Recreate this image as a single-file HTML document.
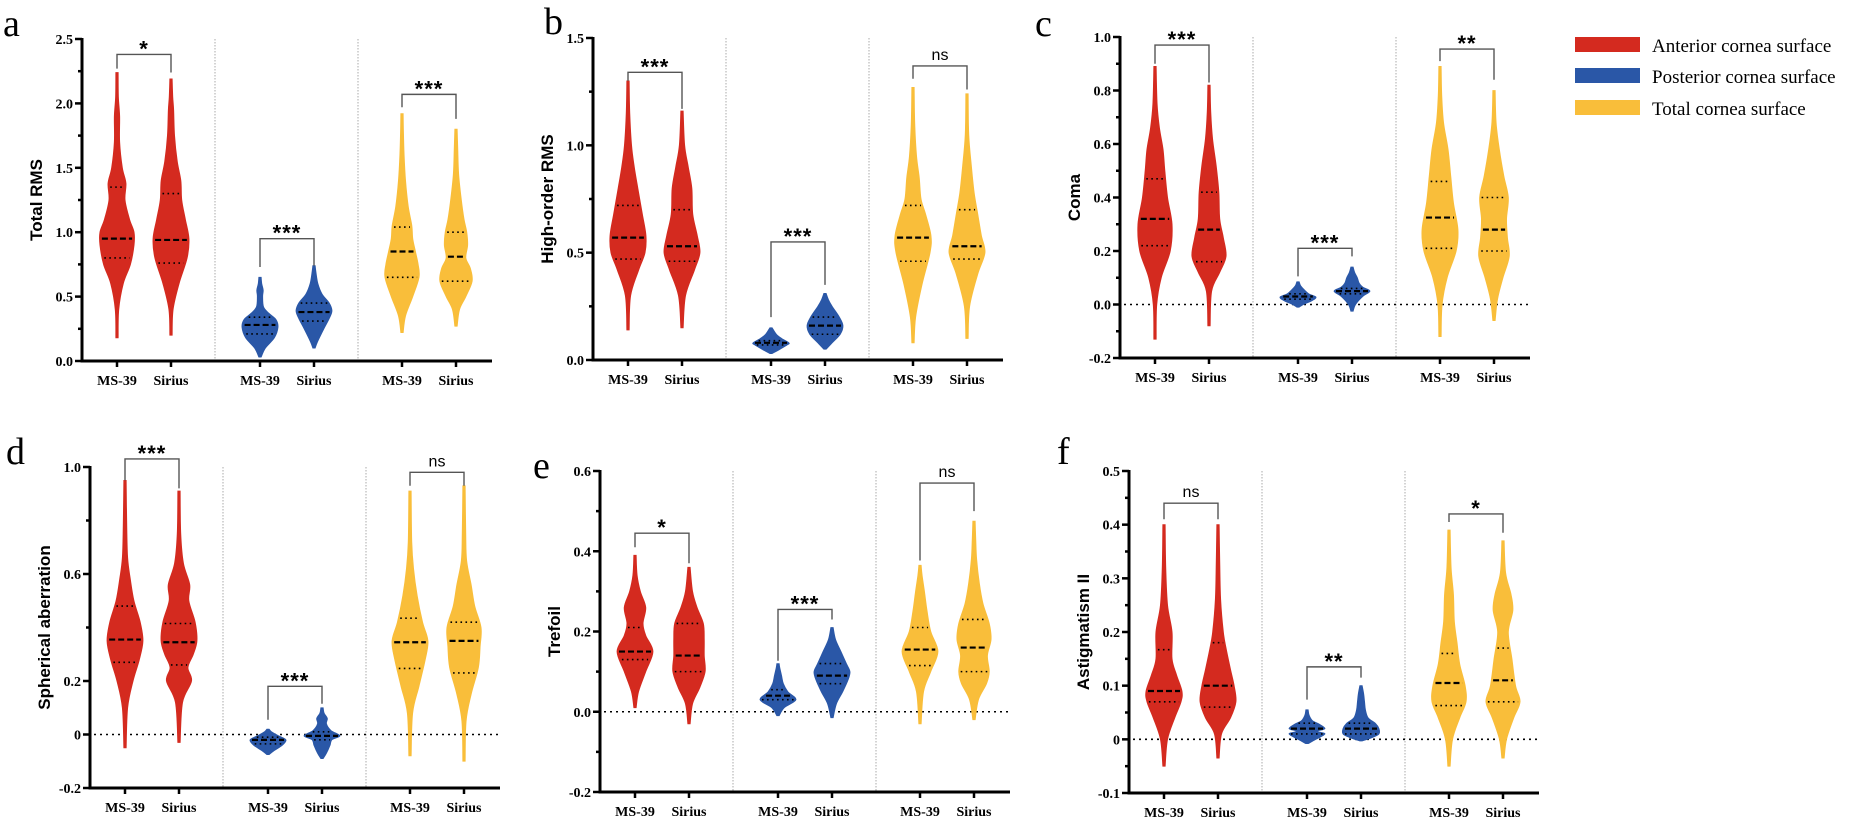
<!DOCTYPE html>
<html><head><meta charset="utf-8"><style>
html,body{margin:0;padding:0;background:#fff;}
svg{display:block;}
.tk{font-family:"Liberation Serif",serif;font-weight:bold;font-size:14px;fill:#000;}
.yt{font-family:"Liberation Sans",sans-serif;font-weight:bold;font-size:17px;fill:#000;}
.pl{font-family:"Liberation Serif",serif;font-size:38px;fill:#000;}
.sig{font-family:"Liberation Sans",sans-serif;font-weight:bold;font-size:17px;fill:#000;}
.lg{font-family:"Liberation Serif",serif;font-size:19px;fill:#000;}
</style></head><body>
<svg id="fig" width="1865" height="818" viewBox="0 0 1865 818" xmlns="http://www.w3.org/2000/svg">
<g>
<rect x="1575" y="37" width="65" height="15" fill="#D42A1F"/>
<text class="lg" x="1652" y="52">Anterior cornea surface</text>
<rect x="1575" y="68" width="65" height="15" fill="#2A57A7"/>
<text class="lg" x="1652" y="83">Posterior cornea surface</text>
<rect x="1575" y="100" width="65" height="15" fill="#F9BE3A"/>
<text class="lg" x="1652" y="115">Total cornea surface</text>
</g>
</svg>
<script>
// ---------- data ----------
const categories = ["MS-39","Sirius","MS-39","Sirius","MS-39","Sirius"];
const seriesColors = ["#D42A1F","#D42A1F","#2A57A7","#2A57A7","#F9BE3A","#F9BE3A"];

// stats per violin: [min, q1, median, q3, max]
const aStats = [[0.18,0.80,0.95,1.35,2.24],[0.20,0.76,0.94,1.30,2.19],[0.03,0.21,0.28,0.34,0.65],[0.10,0.31,0.38,0.45,0.74],[0.22,0.65,0.85,1.04,1.92],[0.27,0.62,0.81,1.00,1.80]];
const bStats = [[0.14,0.47,0.57,0.72,1.30],[0.15,0.46,0.53,0.70,1.16],[0.03,0.07,0.08,0.09,0.15],[0.05,0.12,0.16,0.20,0.31],[0.08,0.46,0.57,0.72,1.27],[0.10,0.47,0.53,0.70,1.24]];
const cStats = [[-0.13,0.22,0.32,0.47,0.89],[-0.08,0.16,0.28,0.42,0.82],[-0.01,0.02,0.03,0.04,0.085],[-0.025,0.04,0.05,0.06,0.14],[-0.12,0.21,0.325,0.46,0.89],[-0.06,0.20,0.28,0.40,0.80]];
const dStats = [[-0.05,0.27,0.355,0.48,0.95],[-0.03,0.26,0.345,0.415,0.91],[-0.075,-0.035,-0.02,-0.01,0.02],[-0.09,-0.02,-0.005,0.01,0.10],[-0.08,0.247,0.345,0.435,0.91],[-0.10,0.23,0.35,0.42,0.93]];
const eStats = [[0.01,0.13,0.15,0.21,0.39],[-0.03,0.10,0.14,0.22,0.36],[-0.01,0.03,0.04,0.055,0.12],[-0.015,0.07,0.09,0.12,0.21],[-0.03,0.115,0.155,0.21,0.365],[-0.02,0.10,0.16,0.23,0.475]];
const fStats = [[-0.05,0.07,0.09,0.167,0.40],[-0.035,0.06,0.10,0.18,0.40],[-0.008,0.01,0.02,0.03,0.055],[-0.003,0.01,0.02,0.03,0.10],[-0.05,0.063,0.105,0.16,0.39],[-0.035,0.07,0.11,0.17,0.37]];

// density knots per violin: [value, relative width]
const aShapes = [
 [[0.4,0.1],[0.6,0.35],[0.75,0.75],[0.9,0.95],[1.0,0.95],[1.1,0.7],[1.25,0.45],[1.38,0.5],[1.5,0.3],[1.7,0.15],[1.9,0.15],[2.05,0.08]],
 [[0.4,0.12],[0.6,0.45],[0.8,0.9],[0.95,1.0],[1.1,0.8],[1.25,0.6],[1.4,0.55],[1.55,0.35],[1.75,0.2],[1.95,0.15],[2.05,0.1]],
 [[0.1,0.3],[0.18,0.8],[0.26,1.0],[0.32,0.9],[0.37,0.5],[0.42,0.2],[0.5,0.15],[0.55,0.18],[0.6,0.1]],
 [[0.15,0.2],[0.25,0.55],[0.33,0.85],[0.39,1.0],[0.45,0.85],[0.52,0.45],[0.6,0.22],[0.68,0.12]],
 [[0.35,0.2],[0.5,0.6],[0.65,0.95],[0.75,0.9],[0.85,0.75],[0.95,0.6],[1.05,0.55],[1.2,0.35],[1.4,0.2],[1.6,0.12],[1.8,0.08]],
 [[0.4,0.2],[0.5,0.55],[0.62,0.9],[0.72,0.8],[0.8,0.55],[0.9,0.65],[1.0,0.6],[1.1,0.45],[1.25,0.3],[1.45,0.15],[1.65,0.1]]];
const bShapes = [
 [[0.3,0.15],[0.42,0.6],[0.5,0.95],[0.58,1.0],[0.68,0.8],[0.8,0.55],[0.9,0.35],[1.0,0.2],[1.15,0.1]],
 [[0.3,0.2],[0.42,0.7],[0.5,1.0],[0.58,0.85],[0.68,0.6],[0.8,0.55],[0.9,0.35],[1.0,0.15]],
 [[0.05,0.5],[0.07,0.9],[0.08,1.0],[0.1,0.6],[0.12,0.3]],
 [[0.08,0.4],[0.12,0.85],[0.16,1.0],[0.2,0.8],[0.25,0.4],[0.28,0.2]],
 [[0.2,0.15],[0.35,0.5],[0.5,0.95],[0.58,1.0],[0.68,0.7],[0.75,0.45],[0.85,0.35],[0.95,0.2],[1.1,0.1]],
 [[0.25,0.15],[0.4,0.6],[0.5,1.0],[0.58,0.8],[0.68,0.6],[0.78,0.4],[0.9,0.25],[1.05,0.1]]];
const cShapes = [
 [[0.0,0.1],[0.1,0.35],[0.2,0.85],[0.3,0.95],[0.4,0.7],[0.5,0.55],[0.58,0.45],[0.66,0.25],[0.75,0.12]],
 [[0.05,0.15],[0.12,0.6],[0.18,0.95],[0.25,0.8],[0.32,0.6],[0.42,0.55],[0.52,0.4],[0.62,0.2],[0.72,0.1]],
 [[0.0,0.3],[0.015,0.8],[0.028,1.0],[0.04,0.6],[0.055,0.35],[0.07,0.15]],
 [[0.0,0.2],[0.03,0.6],[0.05,1.0],[0.065,0.6],[0.08,0.4],[0.1,0.3],[0.12,0.15]],
 [[0.0,0.12],[0.1,0.4],[0.2,0.9],[0.28,1.0],[0.38,0.75],[0.48,0.6],[0.58,0.45],[0.68,0.2],[0.78,0.1]],
 [[0.02,0.2],[0.1,0.5],[0.18,0.85],[0.25,0.75],[0.32,0.7],[0.4,0.8],[0.48,0.55],[0.58,0.3],[0.68,0.12]]];
const dShapes = [
 [[0.1,0.15],[0.2,0.45],[0.28,0.8],[0.35,1.0],[0.42,0.85],[0.5,0.5],[0.58,0.3],[0.66,0.15],[0.78,0.1]],
 [[0.12,0.2],[0.2,0.7],[0.25,0.5],[0.3,0.8],[0.35,1.0],[0.42,0.9],[0.5,0.55],[0.56,0.6],[0.64,0.25],[0.75,0.1]],
 [[-0.06,0.35],[-0.04,0.8],[-0.02,1.0],[-0.005,0.6],[0.01,0.2]],
 [[-0.07,0.25],[-0.04,0.45],[-0.02,0.55],[-0.005,1.0],[0.015,0.5],[0.04,0.25],[0.06,0.3],[0.08,0.12]],
 [[0.08,0.15],[0.18,0.5],[0.28,0.85],[0.35,1.0],[0.42,0.7],[0.52,0.4],[0.62,0.2],[0.72,0.1]],
 [[0.05,0.12],[0.15,0.4],[0.25,0.8],[0.33,0.9],[0.4,0.95],[0.48,0.6],[0.56,0.4],[0.65,0.15],[0.75,0.1]]];
const eShapes = [
 [[0.05,0.2],[0.1,0.6],[0.15,1.0],[0.19,0.6],[0.22,0.45],[0.26,0.6],[0.3,0.3],[0.34,0.12]],
 [[0.02,0.2],[0.06,0.6],[0.1,0.9],[0.14,0.85],[0.18,0.85],[0.22,0.8],[0.26,0.45],[0.3,0.2]],
 [[0.01,0.35],[0.03,1.0],[0.05,0.55],[0.07,0.3],[0.09,0.2],[0.11,0.1]],
 [[0.02,0.25],[0.05,0.6],[0.08,0.9],[0.1,1.0],[0.12,0.8],[0.15,0.5],[0.18,0.2]],
 [[0.05,0.2],[0.1,0.6],[0.15,1.0],[0.2,0.6],[0.25,0.4],[0.3,0.25],[0.34,0.12]],
 [[0.03,0.25],[0.07,0.7],[0.1,0.85],[0.14,0.75],[0.18,0.95],[0.22,0.85],[0.27,0.5],[0.32,0.3],[0.38,0.15],[0.43,0.1]]];
const fShapes = [
 [[0.0,0.2],[0.04,0.6],[0.07,0.95],[0.09,1.0],[0.12,0.7],[0.15,0.45],[0.2,0.45],[0.25,0.2],[0.32,0.1]],
 [[0.01,0.2],[0.04,0.7],[0.07,1.0],[0.1,0.9],[0.13,0.7],[0.17,0.45],[0.2,0.3],[0.26,0.15],[0.33,0.1]],
 [[0.0,0.5],[0.01,1.0],[0.015,0.6],[0.02,1.0],[0.028,0.7],[0.035,0.3],[0.045,0.12]],
 [[0.003,0.6],[0.01,1.0],[0.02,1.0],[0.03,0.8],[0.04,0.4],[0.055,0.25],[0.07,0.2],[0.085,0.15]],
 [[0.0,0.2],[0.04,0.6],[0.07,0.95],[0.1,0.9],[0.14,0.6],[0.18,0.45],[0.22,0.3],[0.27,0.25],[0.32,0.12]],
 [[0.0,0.2],[0.04,0.6],[0.07,0.95],[0.1,0.7],[0.15,0.5],[0.2,0.3],[0.24,0.55],[0.27,0.45],[0.31,0.15]]];

// significance brackets: [bar value, left leg end, right leg end]
const aSig = [[2.38,2.27,2.24],[0.95,0.73,0.74],[2.07,1.97,1.88]];
const bSig = [[1.34,1.30,1.17],[0.55,0.20,0.35],[1.37,1.31,1.26]];
const cSig = [[0.97,0.90,0.83],[0.21,0.105,0.18],[0.955,0.91,0.84]];
const dSig = [[1.03,0.95,0.92],[0.18,0.055,0.115],[0.98,0.93,0.93]];
const eSig = [[0.445,0.41,0.37],[0.255,0.127,0.23],[0.57,0.377,0.50]];
const fSig = [[0.44,0.41,0.41],[0.135,0.074,0.115],[0.42,0.405,0.385]];
const aSigLabels = ["*","***","***"];
const bSigLabels = ["***","***","ns"];
const cSigLabels = ["***","***","**"];
const dSigLabels = ["***","***","ns"];
const eSigLabels = ["*","***","ns"];
const fSigLabels = ["ns","**","*"];

// ticks
const aTicks = [0,0.5,1.0,1.5,2.0,2.5];
const aTickLabels = ["0.0","0.5","1.0","1.5","2.0","2.5"];
const aMinor = [0.25,0.75,1.25,1.75,2.25];
const bTicks = [0,0.5,1.0,1.5];
const bTickLabels = ["0.0","0.5","1.0","1.5"];
const bMinor = [0.25,0.75,1.25];
const cTicks = [-0.2,0,0.2,0.4,0.6,0.8,1.0];
const cTickLabels = ["-0.2","0.0","0.2","0.4","0.6","0.8","1.0"];
const cMinor = [-0.1,0.1,0.3,0.5,0.7,0.9];
const dTicks = [-0.2,0,0.2,0.6,1.0];
const dTickLabels = ["-0.2","0","0.2","0.6","1.0"];
const dMinor = [0.4,0.8];
const eTicks = [-0.2,0,0.2,0.4,0.6];
const eTickLabels = ["-0.2","0.0","0.2","0.4","0.6"];
const eMinor = [-0.1,0.1,0.3,0.5];
const fTicks = [-0.1,0,0.1,0.2,0.3,0.4,0.5];
const fTickLabels = ["-0.1","0","0.1","0.2","0.3","0.4","0.5"];
const fMinor = [-0.05,0.05,0.15,0.25,0.35,0.45];

// ---------- layout ----------
const NS = "http://www.w3.org/2000/svg";
const svg = document.getElementById('fig');
const catOffsets = [35,89,178,232,320,374];
const divOffsets = [133,276];
const AXLEN = 410, HALF = 18;

const panels = [
 {id:'a', letter:[3,36], ax:82, vTop:2.5, yTop:39, vBot:0, yBot:361, title:"Total RMS", stats:aStats, shapes:aShapes, sig:aSig, sigL:aSigLabels, ticks:aTicks, tl:aTickLabels, minor:aMinor, zero:false},
 {id:'b', letter:[544,34], ax:593, vTop:1.5, yTop:38, vBot:0, yBot:360, title:"High-order RMS", stats:bStats, shapes:bShapes, sig:bSig, sigL:bSigLabels, ticks:bTicks, tl:bTickLabels, minor:bMinor, zero:false},
 {id:'c', letter:[1035,36], ax:1120, vTop:1.0, yTop:37, vBot:-0.2, yBot:358, title:"Coma", stats:cStats, shapes:cShapes, sig:cSig, sigL:cSigLabels, ticks:cTicks, tl:cTickLabels, minor:cMinor, zero:true},
 {id:'d', letter:[6,464], ax:90, vTop:1.0, yTop:467, vBot:-0.2, yBot:788, title:"Spherical aberration", stats:dStats, shapes:dShapes, sig:dSig, sigL:dSigLabels, ticks:dTicks, tl:dTickLabels, minor:dMinor, zero:true},
 {id:'e', letter:[533,478], ax:600, vTop:0.6, yTop:471, vBot:-0.2, yBot:792, title:"Trefoil", stats:eStats, shapes:eShapes, sig:eSig, sigL:eSigLabels, ticks:eTicks, tl:eTickLabels, minor:eMinor, zero:true},
 {id:'f', letter:[1057,464], ax:1129, vTop:0.5, yTop:471, vBot:-0.1, yBot:793, title:"Astigmatism II", stats:fStats, shapes:fShapes, sig:fSig, sigL:fSigLabels, ticks:fTicks, tl:fTickLabels, minor:fMinor, zero:true}
];

function mk(tag, attrs, parent){
  const e = document.createElementNS(NS, tag);
  for (const k in attrs) e.setAttribute(k, attrs[k]);
  (parent||svg).appendChild(e);
  return e;
}
function catmull(pts){
  let d = `M${pts[0][0].toFixed(2)},${pts[0][1].toFixed(2)}`;
  for (let i=0;i<pts.length-1;i++){
    const p0 = pts[i-1]||pts[i], p1=pts[i], p2=pts[i+1], p3=pts[i+2]||pts[i+1];
    const c1=[p1[0]+(p2[0]-p0[0])/6, p1[1]+(p2[1]-p0[1])/6];
    const c2=[p2[0]-(p3[0]-p1[0])/6, p2[1]-(p3[1]-p1[1])/6];
    d += `C${c1[0].toFixed(2)},${c1[1].toFixed(2)} ${c2[0].toFixed(2)},${c2[1].toFixed(2)} ${p2[0].toFixed(2)},${p2[1].toFixed(2)}`;
  }
  return d;
}
function widthAt(knots, v){
  if (v<=knots[0][0]) return knots[0][1];
  for (let i=0;i<knots.length-1;i++){
    if (v>=knots[i][0] && v<=knots[i+1][0]){
      const t=(v-knots[i][0])/(knots[i+1][0]-knots[i][0]);
      return knots[i][1]+t*(knots[i+1][1]-knots[i][1]);
    }
  }
  return knots[knots.length-1][1];
}

panels.forEach(p=>{
  const y = v => p.yBot - (v - p.vBot)*(p.yBot-p.yTop)/(p.vTop-p.vBot);
  const g = mk('g', {});
  
  

  const letter = mk('text', {x:p.letter[0], y:p.letter[1], class:'pl'}, g);
  letter.textContent = p.id;
  
  

  // dividers
  divOffsets.forEach((o,i)=>{
    const l = mk('line', {x1:p.ax+o, x2:p.ax+o, y1:p.yTop, y2:p.yBot, stroke:'#aaa', 'stroke-width':1, 'stroke-dasharray':'1.5 1.5'}, g);
    
    
  });

  // zero reference
  if (p.zero){
    const z = mk('line', {x1:p.ax+4, x2:p.ax+AXLEN, y1:y(0), y2:y(0), stroke:'#000', 'stroke-width':1.6, 'stroke-dasharray':'2 4'}, g);
    
    
  }

  // violins
  p.stats.forEach((s,i)=>{
    const cx = p.ax + catOffsets[i];
    const knots = [[s[0],0]].concat(p.shapes[i].filter(k=>k[0]>s[0]&&k[0]<s[4]), [[s[4],0]]);
    const right = knots.map(k=>[cx + k[1]*HALF + (k[1]===0?1.2:0), y(k[0])]);
    const left = knots.slice().reverse().map(k=>[cx - k[1]*HALF - (k[1]===0?1.2:0), y(k[0])]);
    const d = catmull(right) + ' L' + catmull(left).slice(1) + 'Z';
    const v = mk('path', {d:d, fill:seriesColors[i], stroke:seriesColors[i], 'stroke-width':0.8}, g);
    
    
    [1,2,3].forEach(q=>{
      const w = widthAt(knots, s[q])*HALF - 2;
      const ln = mk('line', {x1:cx-w, x2:cx+w, y1:y(s[q]), y2:y(s[q]), stroke:'#000',
        'stroke-width': q===2?2.2:1.6, 'stroke-dasharray': q===2?'6 3':'1.6 3.4'}, g);
      
      
    });
  });

  // significance brackets
  p.sig.forEach((b,j)=>{
    const x1 = p.ax+catOffsets[2*j], x2 = p.ax+catOffsets[2*j+1];
    const br = mk('path', {d:`M${x1},${y(b[1])}V${y(b[0])}H${x2}V${y(b[2])}`, fill:'none', stroke:'#555', 'stroke-width':1.4}, g);
    
    
    const t = mk('text', {x:(x1+x2)/2, y:y(b[0])-6, 'text-anchor':'middle', class:'sig'}, g);
    if (p.sigL[j]==='ns'){ t.setAttribute('style','font-weight:normal;font-size:16px'); }
    else { t.setAttribute('dy','8'); t.setAttribute('style','font-size:22px;letter-spacing:1px'); }
    t.textContent = p.sigL[j];
    
    
  });

  // axes
  const ya = mk('line', {x1:p.ax, x2:p.ax, y1:p.yTop-1, y2:p.yBot+1.5, stroke:'#000', 'stroke-width':3}, g);
  
  
  const xa = mk('line', {x1:p.ax-1.5, x2:p.ax+AXLEN, y1:p.yBot, y2:p.yBot, stroke:'#000', 'stroke-width':3}, g);
  
  
  p.ticks.forEach((v,k)=>{
    const tk = mk('line', {x1:p.ax-7, x2:p.ax, y1:y(v), y2:y(v), stroke:'#000', 'stroke-width':2.5}, g);
    
    
    const tl = mk('text', {x:p.ax-9, y:y(v)+5, 'text-anchor':'end', class:'tk'}, g);
    tl.textContent = p.tl[k];
    
    
  });
  p.minor.forEach(v=>{
    const tk = mk('line', {x1:p.ax-4, x2:p.ax, y1:y(v), y2:y(v), stroke:'#000', 'stroke-width':2.5}, g);
    
    
  });
  categories.forEach((c,i)=>{
    const cx = p.ax+catOffsets[i];
    const tk = mk('line', {x1:cx, x2:cx, y1:p.yBot, y2:p.yBot+6, stroke:'#000', 'stroke-width':2.5}, g);
    
    
    const tl = mk('text', {x:cx, y:p.yBot+24, 'text-anchor':'middle', class:'tk'}, g);
    tl.textContent = c;
    
    
  });
  const yt = mk('text', {x:0, y:0, 'text-anchor':'middle', class:'yt',
    transform:`translate(${p.ax-40},${(p.yTop+p.yBot)/2}) rotate(-90)`}, g);
  yt.textContent = p.title;
  
  
});
</script>
</body></html>
